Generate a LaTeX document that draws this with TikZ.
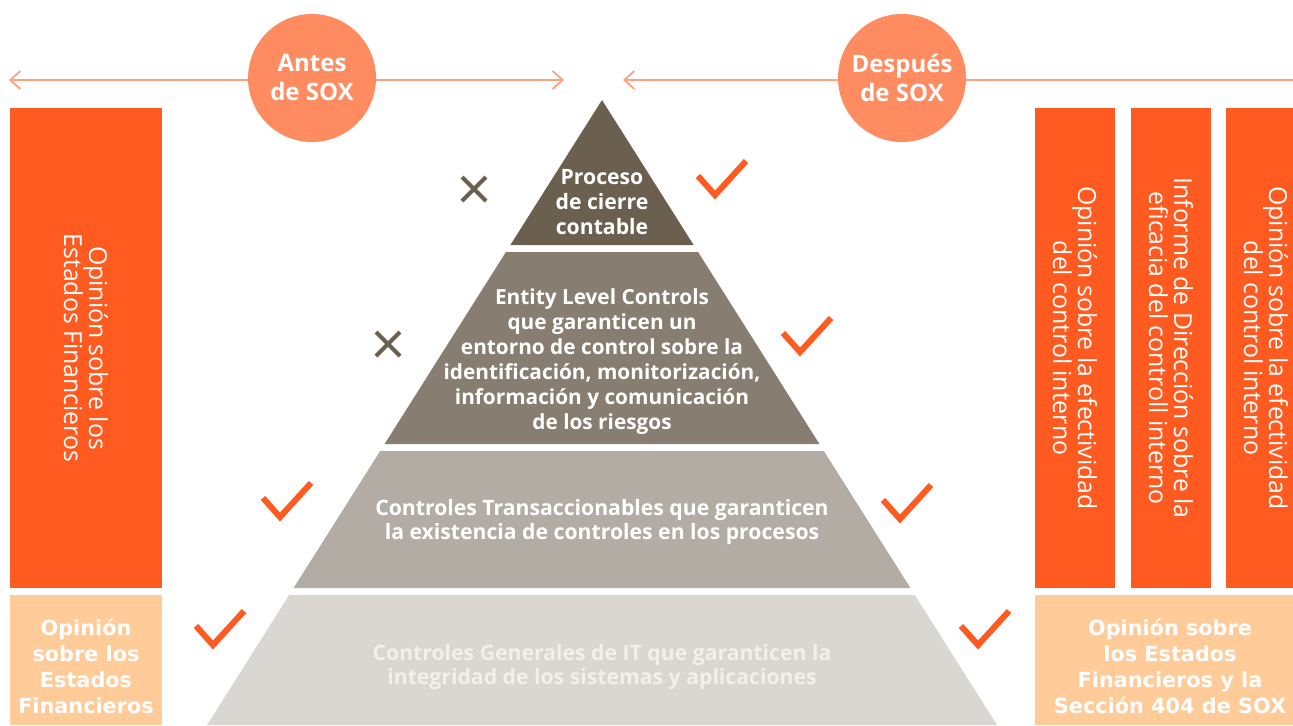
\documentclass[tikz,border=0pt]{standalone}
\usepackage{fontspec}
\setmainfont{Open Sans}
\newfontfamily\wideface{DejaVu Sans}
\usepackage{tikz}
\usetikzlibrary{arrows.meta}
\definecolor{sox}{HTML}{FF5A1F}
\definecolor{peach}{HTML}{FFCB98}
\definecolor{bubble}{HTML}{FF8C61}
\definecolor{rule}{HTML}{FFA07F}
\definecolor{tierA}{HTML}{6B5F4F}
\definecolor{tierB}{HTML}{877D70}
\definecolor{tierC}{HTML}{B3ACA5}
\definecolor{tierD}{HTML}{DAD7D2}
\definecolor{faint}{HTML}{F2F0EC}
\tikzset{
  timeline/.style={draw=rule, line width=0.9pt},
  bubblenode/.style={circle, fill=bubble, minimum size=64pt, inner sep=0pt, text=white, align=center, font=\fontsize{12}{14.5}\selectfont\bfseries},
  tiertxt/.style={text=white, align=center, inner sep=0pt, font=\fontsize{10.4}{12.5}\selectfont\bfseries},
  lowtxt/.style={tiertxt, font=\fontsize{10.6}{12}\selectfont\bfseries},
  sidetxt/.style={text=white, align=center, inner sep=0pt, rotate=-90, font=\fontsize{12.4}{12.5}\selectfont},
  basetxt/.style={text=white, align=center, inner sep=0pt, font=\wideface\fontsize{10.4}{13}\selectfont\bfseries},
  chk/.style={draw=sox, line width=3pt, line join=miter},
  xmark/.style={draw=tierA, line width=2pt},
}

\begin{document}
\begin{tikzpicture}[x=0.5pt,y=-0.5pt]
  \useasboundingbox (0,0) rectangle (1293,725);
  % time lines
  \coordinate (preL) at (9,80);
  \coordinate (preR) at (564,80);
  \coordinate (postL) at (623,80);
  \coordinate (postR) at (1293,80);
  \draw[timeline,{Straight Barb[length=5pt,width=9pt]}-{Straight Barb[length=5pt,width=9pt]}] (preL) -- (preR);
  \draw[timeline,{Straight Barb[length=5pt,width=9pt]}-] (postL) -- (postR);
  \node[bubblenode] (antes) at (312,78) {Antes\\de SOX};
  \node[bubblenode] (despues) at (902,78) {Después\\de SOX};
  % pyramid
  \foreach \yt/\yb/\col in {100/245/tierA,252/444/tierB,451/588/tierC,595/725/tierD}{
    \fill[\col] ({602-0.632*(\yt-100)},\yt) -- ({602+0.632*(\yt-100)},\yt)
      -- ({602+0.632*(\yb-100)},\yb) -- ({602-0.632*(\yb-100)},\yb) -- cycle;
  }
  \node[tiertxt, font=\fontsize{10.6}{12.5}\selectfont\bfseries] (cierre) at (602,202) {Proceso\\de cierre\\contable};
  \node[tiertxt] (entity) at (602,362) {Entity Level Controls\\que garanticen un\\entorno de control sobre la\\identificación, monitorización,\\información y comunicación\\de los riesgos};
  \node[lowtxt] (transac) at (602,522) {Controles Transaccionables que garanticen\\la existencia de controles en los procesos};
  \node[lowtxt, text=faint] (generales) at (602,667) {Controles Generales de IT que garanticen la\\integridad de los sistemas y aplicaciones};
  % before SOX
  \fill[sox] (10,108) rectangle (162,588);
  \fill[peach] (10,595) rectangle (162,725);
  \node[sidetxt] (antesop) at (86,348) {Opinión sobre los\\Estados Financieros};
  \node[basetxt] (antesef) at (86,666) {Opinión\\sobre los\\Estados\\Financieros};
  % after SOX
  \foreach \x in {1035,1131,1226}{
    \fill[sox] (\x,108) rectangle ({min(\x+80,1293)},588);
  }
  \fill[peach] (1035,595) rectangle (1293,725);
  \node[sidetxt] (efect) at (1075,348) {Opinión sobre la efectividad\\del control interno};
  \node[sidetxt] (informe) at (1171,348) {Informe de Dirección sobre la\\eficacia del controll interno};
  \node[sidetxt] (efectb) at (1266,348) {Opinión sobre la efectividad\\del control interno};
  \node[basetxt] (despuesef) at (1170,666) {Opinión sobre\\los Estados\\Financieros y la\\Sección 404 de SOX};
  % marks
  \foreach \x/\y in {715/195,800/352,280/517,900/519,213/645,978/645}{
    \draw[chk] ({\x-17},{\y-19}) -- (\x,\y) -- ({\x+31},{\y-34});
  }
  \foreach \x/\y in {474/189,388/344}{
    \draw[xmark] ({\x-12},{\y-12}) -- ({\x+12},{\y+12}) ({\x-12},{\y+12}) -- ({\x+12},{\y-12});
  }
\end{tikzpicture}
\end{document}
